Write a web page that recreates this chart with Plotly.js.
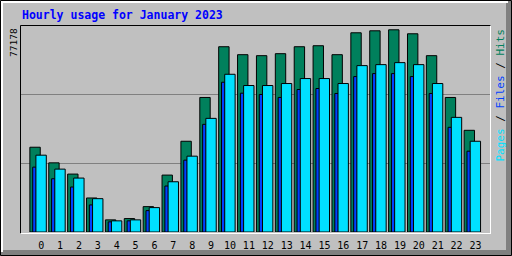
<!DOCTYPE html>
<html>
<head>
<meta charset="utf-8">
<script src="https://cdn.plot.ly/plotly-3.0.1.min.js"></script>
<style>html,body{margin:0;padding:0;background:#C0C0C0;}#chart{width:512px;height:256px;}</style>
</head>
<body>
<div id="chart"></div>
<script>
// Data (Webalizer hourly usage, January 2023)
const hours = [0,1,2,3,4,5,6,7,8,9,10,11,12,13,14,15,16,17,18,19,20,21,22,23];
const hourLabels = ["0","1","2","3","4","5","6","7","8","9","10","11","12","13","14","15","16","17","18","19","20","21","22","23"];
const hits  = [32360,26397,22105,12990,4634,5127,9685,21726,34639,51351,70721,67683,67303,68063,70721,71101,67683,76038,76798,77178,75659,67303,51351,38817];
const pages = [29322,24004,20586,12724,4254,4634,9305,19181,28942,43375,60201,55909,55909,56669,58568,58568,56669,63505,63885,64644,63885,56669,43754,34639];
const files = [24764,20320,17168,10331,3874,4254,8166,17547,27423,41096,57162,52984,52490,51351,54390,54770,52870,59327,60466,60466,59327,52870,39956,30841];
const titleText = "Hourly usage for January 2023";

const maxHits = Math.max(...hits);
const L = 21, T = 26, W = 469, H = 206;
const PX = x => (x - L) / W;
const PY = y => (T + H - y) / H;
const yTop = maxHits * 206 / 202.2;

const common = {type:'bar', x: hours, hoverinfo:'skip'};
const traces = [
  Object.assign({}, common, {name:'Hits',  y: hits,  offset:-0.60, width:0.55, marker:{color:'#00805C', line:{color:'#000', width:1}}}),
  Object.assign({}, common, {name:'Files', y: files, offset:-0.45, width:0.19, marker:{color:'#0040FF', line:{color:'#000', width:1}}}),
  Object.assign({}, common, {name:'Pages', y: pages, offset:-0.28, width:0.55, marker:{color:'#00E0FF', line:{color:'#000', width:1}}})
];

function rect(x0,y0,x1,y1,fill){return {type:'rect',xref:'paper',yref:'paper',x0:PX(x0),x1:PX(x1),y0:PY(y0),y1:PY(y1),fillcolor:fill,line:{width:0},layer:'above'};}
function line(x0,y0,x1,y1,color){return {type:'line',xref:'paper',yref:'paper',x0:PX(x0),x1:PX(x1),y0:PY(y0),y1:PY(y1),line:{color:color,width:1},layer:'above'};}

const shapes = [
  rect(506,1,511,255,'#808080'),
  rect(1,250,511,255,'#808080'),
  rect(1,1,508,3,'#FFFFFF'),
  rect(1,1,3,252,'#FFFFFF'),
  {type:'rect',xref:'paper',yref:'paper',x0:PX(0.5),x1:PX(511.5),y0:PY(0.5),y1:PY(255.5),line:{color:'#000',width:1},layer:'above'},
  line(20.5,25.5,491,25.5,'#000000'),
  line(20.5,25.5,20.5,233.5,'#000000'),
  line(490.5,25.5,490.5,233.5,'#FFFFFF'),
  line(20.5,233.5,491,233.5,'#FFFFFF')
];

const mono = "DejaVu Sans Mono, monospace";
const annotations = [
  {xref:'paper',yref:'paper',x:PX(20),y:PY(15),xanchor:'left',yanchor:'middle',showarrow:false,
   text:'<b>'+titleText+'</b>',font:{family:mono,size:11.5,color:'#0000FF'}},
  {xref:'paper',yref:'paper',x:PX(14),y:PY(43),xanchor:'center',yanchor:'middle',showarrow:false,textangle:-90,
   text:String(maxHits),font:{family:mono,size:9.5,color:'#000000'}},
  {xref:'paper',yref:'paper',x:PX(500.5),y:PY(95),xanchor:'center',yanchor:'middle',showarrow:false,textangle:-90,
   text:'<span style="color:#00E0FF">Pages</span> / <span style="color:#0040FF">Files</span> / <span style="color:#00805C">Hits</span>',
   font:{family:mono,size:11,color:'#000000'}}
];

const layout = {
  width:512, height:256,
  margin:{l:L, r:512-L-W, t:T, b:256-T-H, pad:0},
  paper_bgcolor:'#C0C0C0', plot_bgcolor:'#C0C0C0',
  barmode:'overlay', showlegend:false,
  xaxis:{range:[-1.07,23.77], tickvals:hours, ticktext:hourLabels, showgrid:false, zeroline:false, showline:false,
         ticks:'outside', ticklen:4, tickcolor:'rgba(0,0,0,0)', tickfont:{family:mono,size:10,color:'#000'}, fixedrange:true},
  yaxis:{range:[0,yTop], tickvals:[yTop/3, 2*yTop/3], showticklabels:false, showgrid:true, gridcolor:'#808080', gridwidth:1,
         zeroline:false, showline:false, ticks:'', fixedrange:true},
  shapes:shapes, annotations:annotations
};

Plotly.newPlot('chart', traces, layout, {displayModeBar:false, staticPlot:true});
</script>
</body>
</html>
